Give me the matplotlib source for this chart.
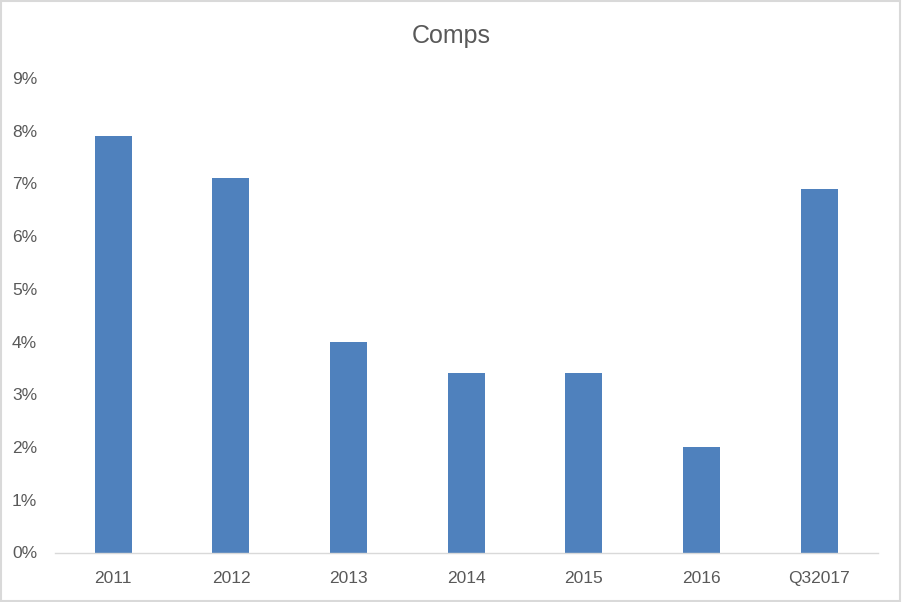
import matplotlib
matplotlib.use("Agg")
import matplotlib.pyplot as plt
from matplotlib.patches import Rectangle
from matplotlib.ticker import FuncFormatter, MultipleLocator

categories = ["2011", "2012", "2013", "2014", "2015", "2016", "Q32017"]
comps = [7.9, 7.1, 4.0, 3.4, 3.4, 2.0, 6.9]
title = "Comps"

plt.rcParams['font.family'] = ['Liberation Sans', 'DejaVu Sans']
text_color = "#595959"

fig = plt.figure(figsize=(9.02, 6.02), dpi=100)
ax = fig.add_axes([54.5/902, (602-552.5)/602, (878-54.5)/902, (552.5-78)/602])

x = range(len(categories))
ax.bar(x, comps, width=0.315, color="#4F81BD", zorder=2)

ax.set_xlim(-0.5, len(categories) - 0.5)
ax.set_ylim(0, 9)
ax.yaxis.set_major_locator(MultipleLocator(1))
ax.yaxis.set_major_formatter(FuncFormatter(lambda v, p: f"{v:.0f}%"))
ax.set_xticks(list(x))
ax.set_xticklabels(categories)

for s in ["top", "right", "left"]:
    ax.spines[s].set_visible(False)
ax.spines["bottom"].set_color("#D9D9D9")
ax.spines["bottom"].set_linewidth(1.0)
ax.tick_params(axis="both", length=0, colors=text_color, labelsize=12.5)
ax.tick_params(axis="y", pad=12.5)
ax.tick_params(axis="x", pad=13)

fig.text(0.5, 1 - 36/602, title, ha="center", va="center", fontsize=18, color=text_color)

fig.patches.append(Rectangle((0.001, 0.001), 0.997, 0.997, transform=fig.transFigure,
                             fill=False, edgecolor="#D9D9D9", linewidth=1.5))

fig.savefig("out.png", dpi=100, facecolor="white")
